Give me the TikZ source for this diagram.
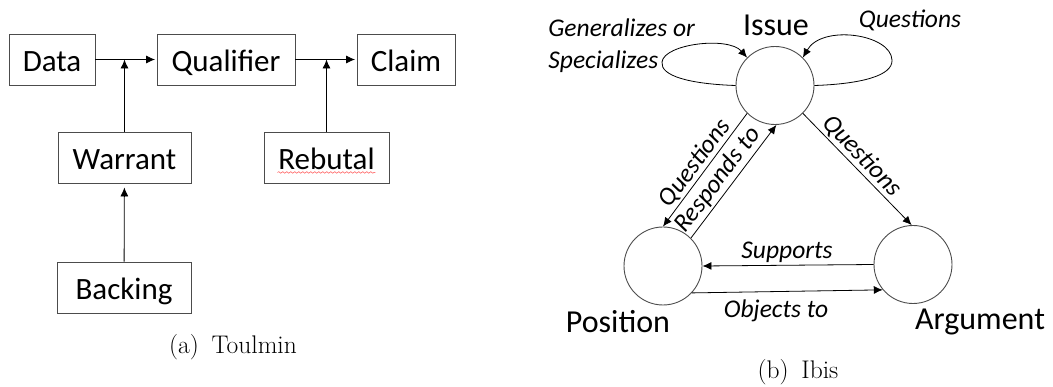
\documentclass[tikz,border=0pt]{standalone}
\usepackage{fontspec}
\newfontfamily\calfont{Carlito}
\usepackage{tikz}
\usetikzlibrary{arrows.meta,calc,decorations.pathmorphing}

\tikzset{
  box/.style={draw=black!70, line width=0.9pt, minimum height=51pt, inner sep=0pt,
    text height=28pt, text depth=4pt, font=\calfont\fontsize{31}{37}\selectfont},
  bubble/.style={draw=black!70, line width=0.9pt, circle, minimum size=78pt, inner sep=0pt},
  bigword/.style={inner sep=0pt, font=\calfont\fontsize{32}{38}\selectfont},
  rel/.style={inner sep=0pt, font=\calfont\itshape\fontsize{25.5}{32}\selectfont},
  subcap/.style={inner sep=0pt, font=\fontsize{25.5}{30}\selectfont},
}

\begin{document}
\begin{tikzpicture}[x=1pt,y=-1pt,>={Latex[length=9pt,width=8pt]},line width=0.8pt]
        \useasboundingbox (0,0) rectangle (1053,387);

        % Toulmin boxes
        \node[box, minimum width=86pt]  (data)  at (52,59.5)    {Data};
        \node[box, minimum width=138pt] (qual)  at (226,59.5)   {Qualifier};
        \node[box, minimum width=98pt]  (claim) at (406,59.5)   {Claim};
        \node[box, minimum width=133pt] (warr)  at (124.5,157.5) {Warrant};
        \node[box, minimum width=125pt] (reb)   at (326.5,157.5) {Rebutal};
        \node[box, minimum width=134pt] (back)  at (124,287.5)  {Backing};

        % Toulmin arrows
        \draw[->, shorten >=1.5pt] (data) -- (qual);
        \draw[->, shorten >=1.5pt] (qual) -- (claim);
        \draw[->] (warr) -- (warr |- data);
        \draw[->] (reb) -- (reb |- qual);
        \draw[->, shorten >=4pt] (back) -- (warr);

        % spell-check squiggle under Rebutal
        \draw[red!80, line width=0.4pt, decorate, decoration={snake, amplitude=0.8pt, segment length=4pt}]
              ([shift={(14,-11)}]reb.south west) -- ([shift={(-14,-11)}]reb.south east);

        \node[subcap] (capa) at (233,347) {(a)\hspace{0.5em}Toulmin};

        % Ibis circles and their names
        \node[bubble] (iss) at (775,85.5) {};
        \node[bubble] (pos) at (663,266)  {};
        \node[bubble] (arg) at (913,264.5) {};
        \node[bigword] (isst) at (776,25)  {Issue};
        \node[bigword] (post) at (618,322) {Position};
        \node[bigword] (argt) at (980,322) {Argument};

        % Ibis arrows
        \draw[->] (iss.-45) -- (arg.92);
        \draw[->] (iss.225) -- (pos.90);
        \draw[->] (pos.45) -- (iss.272);
        \draw[->] (arg.west) -- (pos.east);
        \draw[->] (pos.-43) -- (arg.220);
        \draw[->] (iss.west) .. controls (690,84) and (660,76) .. (662,62)
                  .. controls (664,44) and (728,36) .. (iss.135);
        \draw[->] (iss.east) .. controls (860,84) and (893,76) .. (892,60)
                  .. controls (891,34) and (822,24) .. (iss.45);

        % Ibis arrow labels
        \node[rel, align=left, anchor=west] (gen) at (548,46) {Generalizes or\\Specializes};
        \node[rel] (qtop) at (910,20) {Questions};
        \node[rel, rotate=-46] (qarg) at (862,156) {Questions};
        \node[rel, rotate=53]  (qpos) at (695,163) {Questions};
        \node[rel, rotate=53]  (resp) at (718,180) {Responds to};
        \node[rel] (sup) at (787,252) {Supports};
        \node[rel] (obj) at (776,311) {Objects to};

        \node[subcap] (capb) at (798,372) {(b)\hspace{0.5em}Ibis};
\end{tikzpicture}
\end{document}
